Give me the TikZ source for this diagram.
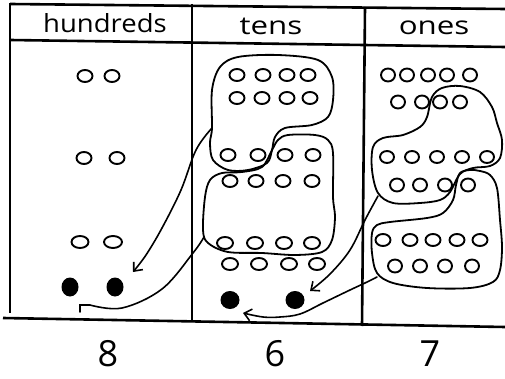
\documentclass[tikz,border=0pt]{standalone}
\usepackage{fontspec}
\setmainfont{Open Sans}
\usetikzlibrary{shapes.geometric,arrows.meta}
\begin{document}
\begin{tikzpicture}[x=1pt,y=-1pt,
  frame/.style={line width=2.6pt},
  blob/.style={line width=1.8pt, line join=round},
  dot/.style={ellipse, draw, line width=1.9pt, minimum width=15pt, minimum height=12pt, inner sep=0pt},
  fdot/.style={ellipse, fill, minimum width=17pt, minimum height=19pt, inner sep=0pt},
  conn/.style={line width=1.6pt, line cap=round, -{Straight Barb[length=7pt,width=12pt]}},
  plainconn/.style={line width=1.6pt, line cap=round},
  head/.style={font=\fontsize{25}{25}\selectfont, inner sep=0pt},
  digit/.style={font=\fontsize{36}{36}\selectfont, inner sep=0pt}]
\useasboundingbox (0,0) rectangle (505,379);
\fill[white] (0,0) rectangle (505,379);
% frame
\draw[frame] (10,4) -- (505,9);
\draw[frame] (10,40) -- (505,47);
\draw[frame] (10,3) -- (10,313);
\draw[frame] (3,318) -- (505,327);
\draw[frame] (192,4) -- (192,322);
\draw[frame] (365,7) -- (362,326);
% headers
\node[head, xscale=1.1] (hh) at (105,23) {hundreds};
\node[head, xscale=1.25] (ht) at (271,26) {tens};
\node[head, xscale=1.25] (ho) at (434,28) {ones};
% hundreds
\node[dot] (h11) at (85,76) {};  \node[dot] (h12) at (112,76) {};
\node[dot] (h21) at (84,158) {}; \node[dot] (h22) at (117,158) {};
\node[dot, minimum width=17pt] (h31) at (80,242) {}; \node[dot, minimum width=18pt] (h32) at (113,242) {};
\node[fdot] (hf1) at (70,287) {}; \node[fdot] (hf2) at (115,287) {};
% tens
\foreach \x [count=\i] in {237,263,287,308} {\node[dot] (t1\i) at (\x,75) {};}
\foreach \x [count=\i] in {237,262,287,310} {\node[dot] (t2\i) at (\x,98) {};}
\foreach \x [count=\i] in {228,258,285,313} {\node[dot] (t3\i) at (\x,155) {};}
\foreach \x [count=\i] in {230,256,283,312} {\node[dot] (t4\i) at (\x,181) {};}
\foreach \x [count=\i] in {225,255,284,312} {\node[dot, minimum width=16pt] (t5\i) at (\x,243) {};}
\foreach \x [count=\i] in {230,259,289,317} {\node[dot, minimum width=16pt] (t6\i) at (\x,264) {};}
\node[fdot, minimum width=19pt, minimum height=18pt] (tf1) at (230,300) {};
\node[fdot, minimum width=19pt, minimum height=18pt] (tf2) at (295,300) {};
% ones
\foreach \x [count=\i] in {388,407,428,447,470} {\node[dot, minimum width=14pt, minimum height=13pt] (o1\i) at (\x,75) {};}
\foreach \x [count=\i] in {398,422,440,460} {\node[dot, minimum width=14pt, minimum height=13pt] (o2\i) at (\x,102) {};}
\foreach \x [count=\i] in {387,412,437,462,487} {\node[dot, minimum width=14pt] (o3\i) at (\x,157) {};}
\foreach \x [count=\i] in {397,420,445,468} {\node[dot, minimum width=14pt, minimum height=13pt] (o4\i) at (\x,185) {};}
\foreach \x [count=\i] in {383,410,433,457,480} {\node[dot, minimum width=15pt] (o5\i) at (\x,240) {};}
\foreach \x [count=\i] in {395,420,445,472} {\node[dot, minimum width=14pt, minimum height=13pt] (o6\i) at (\x,266) {};}
% tens loops
\draw[blob] plot[smooth cycle, tension=0.55] coordinates {(212,128) (212,90) (220,67) (238,57) (278,55) (318,60) (332,77) (333,100) (328,117) (312,125) (285,128) (275,137) (272,150) (267,163) (248,170) (228,170) (213,160) (210,143)};
\draw[blob] plot[smooth cycle, tension=0.55] coordinates {(210,180) (222,173) (242,172) (262,167) (272,150) (278,140) (288,135) (315,135) (328,140) (333,153) (333,197) (335,217) (332,240) (322,252) (295,255) (262,253) (228,252) (208,243) (203,230) (205,197)};
% ones loops
\draw[blob] plot[smooth cycle, tension=0.55] coordinates {(427,117) (432,97) (442,88) (460,86) (480,92) (492,107) (497,123) (502,140) (500,158) (490,166) (473,168) (460,174) (450,192) (440,200) (420,203) (393,203) (378,193) (372,170) (373,147) (383,138) (403,135) (420,127)};
\draw[blob] plot[smooth cycle, tension=0.55] coordinates {(460,173) (470,170) (480,171) (490,175) (497,188) (500,220) (502,247) (500,270) (493,282) (470,288) (427,288) (393,283) (377,273) (372,253) (372,233) (377,225) (390,222) (427,218) (443,213) (453,200) (456,185)};
% connector points
\coordinate (ta1) at (212,128);
\coordinate (ta1e) at (133,272);
\coordinate (ta2) at (204,237);
\coordinate (ta2e) at (80,312);
\coordinate (oa1) at (378,196);
\coordinate (oa1e) at (310,291);
\coordinate (oa2) at (377,277);
\coordinate (oa2e) at (243,313);
% connectors
\draw[conn] plot[smooth, tension=0.6] coordinates {(ta1) (196,150) (181,190) (162,228) (146,255) (ta1e)};
\draw[plainconn] plot[smooth, tension=0.6] coordinates {(ta2) (193,253) (162,289) (122,308) (90,305)} -- (80,305) -- (ta2e);
\draw[conn] plot[smooth, tension=0.6] coordinates {(oa1) (365,220) (350,250) (330,274) (oa1e)};
\draw[conn] plot[smooth, tension=0.6] coordinates {(oa2) (365,283) (350,290) (323,303) (300,314) (280,317) (263,317) (oa2e)};
% digits
\node[digit] (d8) at (108,354) {8};
\node[digit] (d6) at (275,354) {6};
\node[digit] (d7) at (430,354) {7};
\end{tikzpicture}
\end{document}
